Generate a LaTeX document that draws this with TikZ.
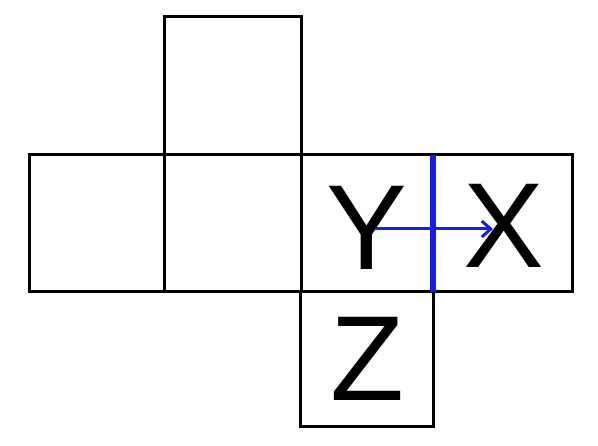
\documentclass[tikz,border=0pt]{standalone}
\usepackage{fontspec}
\setmainfont{Liberation Sans}
\usetikzlibrary{arrows.meta}
\definecolor{netblue}{RGB}{20,30,230}
\begin{document}
\begin{tikzpicture}[x=1pt,y=-1pt,
  face/.style={draw=black,line width=3pt,line join=miter},
  letter/.style={font=\fontsize{121}{121}\selectfont,inner sep=0pt,anchor=base},
  fold/.style={draw=netblue,line width=6pt},
  move/.style={draw=netblue,line width=3pt,-{Straight Barb[length=9pt,width=16pt,line width=3pt]}}]
\useasboundingbox (0,0) rectangle (598,446);
% faces
\draw[face] (164,17) rectangle (301,155);
\draw[face] (29,155) rectangle (164,292);
\draw[face] (164,155) rectangle (301,292);
\draw[face] (301,155) rectangle (433,292);
\draw[face] (433,155) rectangle (572,292);
\draw[face] (300,292) rectangle (433,427);
% letters
\node[letter] (Y) at (367,270) {Y};
\node[letter] (X) at (504,268) {X};
\node[letter] (Z) at (367,401) {Z};
% fold line
\coordinate (f1) at (433,155);
\coordinate (f2) at (433,292);
\draw[fold] (f1) -- (f2);
% arrow
\coordinate (a1) at (375,229);
\coordinate (a2) at (493,229);
\draw[move] (a1) -- (a2);
\end{tikzpicture}
\end{document}
